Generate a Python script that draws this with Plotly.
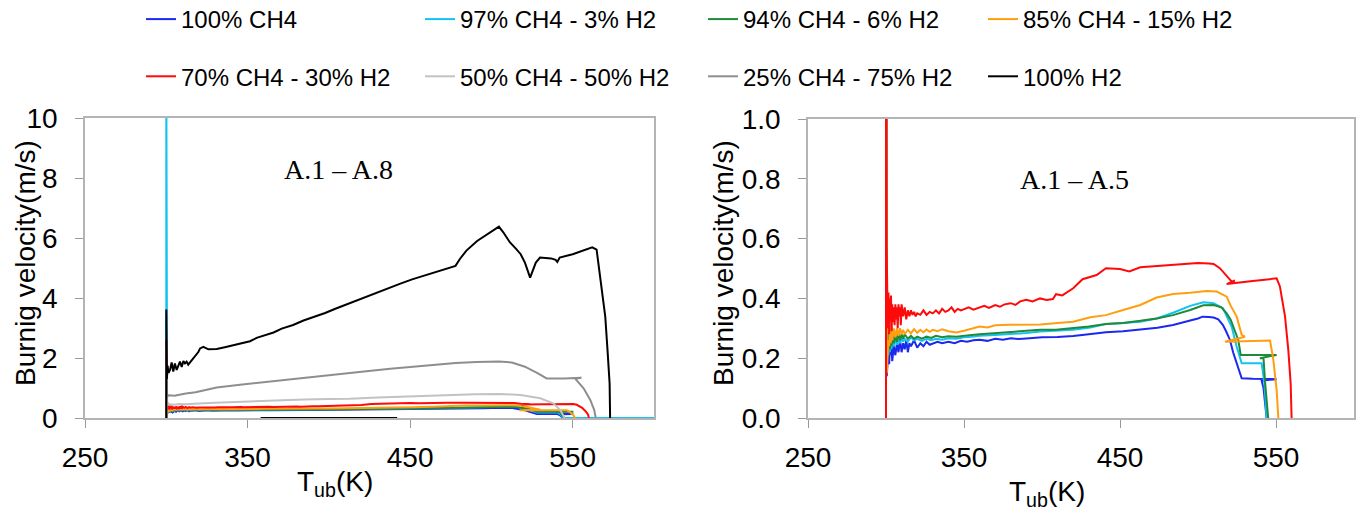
import plotly.graph_objects as go

# ---------------- data (T_ub [K], burning velocity [m/s]) ----------------
names = ["100% CH4", "97% CH4 - 3% H2", "94% CH4 - 6% H2", "85% CH4 - 15% H2",
         "70% CH4 - 30% H2", "50% CH4 - 50% H2", "25% CH4 - 75% H2", "100% H2"]
colors = ["#1c28f0", "#12c3f2", "#1f8a3a", "#ff9f10",
          "#ff0a0a", "#c2c2c2", "#8e8e8e", "#000000"]

ch4_100 = [(300, 0), (300, 1.5), (300.5, 0.14), (301, 0.20), (301.5, 0.23), (302, 0.18), (302.5, 0.24),
           (303, 0.21), (303.5, 0.25), (304, 0.19), (305, 0.24), (306, 0.21), (307, 0.25), (308, 0.22),
           (309, 0.26), (310, 0.22), (311, 0.25), (312, 0.23), (313, 0.26), (314, 0.22), (315, 0.25),
           (316, 0.24), (318, 0.26), (320, 0.235), (322, 0.25), (324, 0.24), (326, 0.255), (328, 0.245),
           (330, 0.25), (333, 0.255), (336, 0.25), (340, 0.255), (344, 0.25), (348, 0.258), (352, 0.255),
           (356, 0.26), (360, 0.262), (365, 0.258), (370, 0.265), (375, 0.262), (380, 0.267), (385, 0.264),
           (390, 0.266), (395, 0.268), (400, 0.27), (410, 0.271), (420, 0.274), (430, 0.28), (441, 0.287),
           (452, 0.29), (463, 0.296), (474, 0.302), (484, 0.311), (490, 0.318), (495, 0.326), (500, 0.333),
           (503, 0.339), (507, 0.338), (510, 0.336), (513, 0.33), (516, 0.311), (518, 0.29), (520.5, 0.261),
           (522.5, 0.22), (524.8, 0.183), (526.5, 0.15), (528, 0.133), (535, 0.131), (550.4, 0.13),
           (540.8, 0.125), (542, 0.10), (543, 0.05), (543.6, 0.02), (544, 0)]

ch4_97 = [(300, 0), (300, 12), (300.5, 0.18), (301, 0.24), (301.5, 0.21), (302, 0.26), (302.5, 0.22),
          (303, 0.27), (303.5, 0.23), (304, 0.26), (305, 0.24), (306, 0.27), (307, 0.245), (308, 0.265),
          (309, 0.25), (310, 0.27), (311, 0.255), (312, 0.265), (314, 0.255), (316, 0.27), (318, 0.26),
          (320, 0.265), (323, 0.258), (326, 0.265), (329, 0.26), (332, 0.265), (336, 0.262), (340, 0.267),
          (345, 0.265), (350, 0.27), (355, 0.272), (360, 0.275), (370, 0.278), (380, 0.28), (390, 0.284),
          (399, 0.289), (410, 0.292), (420, 0.295), (431, 0.303), (441, 0.314), (452, 0.318), (463, 0.322),
          (473.5, 0.333), (484, 0.352), (495, 0.375), (503.4, 0.387), (510, 0.384), (516, 0.367),
          (521.6, 0.305), (524.8, 0.238), (528, 0.183), (540.8, 0.183), (542.5, 0.12), (543.5, 0.05),
          (544, 0)]
# zero-velocity tail visible only along the left panel's bottom axis
ch4_97_tail = [(544, 0), (600, 0)]

ch4_94 = [(300, 0), (300, 1.8), (300.5, 0.16), (301, 0.25), (301.5, 0.22), (302, 0.29), (302.5, 0.23),
          (303, 0.28), (303.5, 0.24), (304, 0.29), (305, 0.25), (306, 0.28), (307, 0.255), (308, 0.285),
          (309, 0.26), (310, 0.28), (311, 0.265), (312, 0.28), (314, 0.265), (316, 0.275), (318, 0.265),
          (320, 0.272), (323, 0.265), (326, 0.272), (329, 0.268), (332, 0.275), (336, 0.27), (340, 0.273),
          (345, 0.272), (350, 0.276), (355, 0.278), (360, 0.28), (370, 0.284), (380, 0.287), (390, 0.29),
          (399, 0.295), (409, 0.295), (420, 0.3), (430, 0.306), (441, 0.314), (452, 0.318), (463, 0.325),
          (473.5, 0.333), (484, 0.344), (495, 0.361), (503.4, 0.377), (510, 0.378), (515, 0.37),
          (518.4, 0.35), (521, 0.328), (522.6, 0.305), (525.8, 0.261), (527.4, 0.211), (550.4, 0.211),
          (539.7, 0.2), (542, 0.2), (543, 0.12), (544.5, 0.04), (545, 0)]

ch4_85 = [(300, 0), (300, 2.2), (300.5, 0.15), (301, 0.2), (301.5, 0.26), (302, 0.24), (302.5, 0.3),
          (303, 0.25), (303.5, 0.31), (304, 0.26), (305, 0.3), (306, 0.27), (307, 0.3), (308, 0.275),
          (309, 0.3), (310, 0.28), (311, 0.295), (312, 0.28), (314, 0.295), (316, 0.283), (318, 0.297),
          (320, 0.285), (322, 0.295), (324, 0.287), (326, 0.296), (328, 0.288), (330, 0.295), (333, 0.29),
          (336, 0.297), (340, 0.29), (345, 0.286), (350, 0.292), (355, 0.3), (360, 0.306), (365, 0.303),
          (370, 0.31), (380, 0.312), (390, 0.313), (399, 0.313), (410, 0.318), (420, 0.322), (431, 0.337),
          (441, 0.344), (452, 0.361), (463, 0.378), (473.5, 0.403), (484, 0.415), (495, 0.419),
          (505.5, 0.425), (512, 0.423), (518.4, 0.406), (521, 0.375), (524.8, 0.339), (528, 0.278),
          (530.1, 0.272), (517.3, 0.255), (546.2, 0.259), (548.3, 0.194), (550.4, 0.094), (551.5, 0)]

ch4_70 = [(300, 0), (300, 2.6), (300.4, 0.58), (300.8, 0.43), (301.2, 0.30), (301.6, 0.42), (302, 0.28),
          (302.4, 0.40), (302.8, 0.33), (303.2, 0.41), (303.6, 0.29), (304, 0.38), (304.5, 0.32),
          (305, 0.37), (305.5, 0.31), (306, 0.38), (306.5, 0.33), (307, 0.37), (307.5, 0.30), (308, 0.38),
          (308.5, 0.34), (309, 0.37), (309.5, 0.31), (310, 0.38), (311, 0.34), (312, 0.37), (313, 0.33),
          (314, 0.36), (315, 0.34), (316, 0.36), (317, 0.345), (318, 0.355), (319, 0.34), (320, 0.35),
          (322, 0.345), (324, 0.36), (326, 0.345), (328, 0.355), (330, 0.35), (332, 0.36), (334, 0.35),
          (336, 0.365), (338, 0.355), (340, 0.36), (342, 0.37), (344, 0.355), (346, 0.365), (348, 0.36),
          (350, 0.365), (353, 0.37), (356, 0.362), (360, 0.37), (363, 0.375), (366, 0.368), (370, 0.378),
          (373, 0.372), (376, 0.38), (380, 0.384), (383, 0.378), (386, 0.39), (390, 0.395), (394, 0.39),
          (398.7, 0.40), (403, 0.395), (407, 0.398), (409, 0.414), (413, 0.41), (420, 0.434), (426, 0.464),
          (435, 0.478), (441, 0.501), (450, 0.498), (456, 0.49), (463, 0.504), (473, 0.508), (484, 0.512),
          (495, 0.517), (500, 0.518), (507, 0.517), (510, 0.515), (514, 0.501), (518, 0.478),
          (521.6, 0.456), (523.7, 0.46), (518.4, 0.448), (535, 0.458), (550.4, 0.467), (552.5, 0.44),
          (555.8, 0.339), (557.9, 0.227), (559.4, 0.116), (560, 0)]

ch4_50 = [(300, 0), (300, 1.8), (300.5, 0.42), (302, 0.46), (305, 0.44), (308, 0.47), (312, 0.46),
          (316, 0.48), (320, 0.48), (330, 0.51), (340, 0.53), (350, 0.55), (360, 0.57), (372, 0.6),
          (385, 0.62), (400, 0.63), (413, 0.64), (430, 0.68), (450, 0.72), (470, 0.76), (490, 0.79),
          (505, 0.8), (518, 0.77), (530, 0.66), (538, 0.49), (542.3, 0.27), (544.4, 0.04), (545, 0)]

ch4_25 = [(300, 0), (300, 2.4), (300.5, 0.72), (301.6, 0.76), (305, 0.74), (308, 0.78), (312, 0.82),
          (318, 0.86), (323, 0.93), (331, 1.02), (344, 1.1), (357.7, 1.18), (371, 1.28), (384.4, 1.35),
          (397.7, 1.42), (411, 1.49), (424.5, 1.57), (437.8, 1.64), (451.2, 1.71), (464.5, 1.77),
          (478, 1.83), (491, 1.87), (504.6, 1.88), (512.6, 1.85), (520.6, 1.71), (528.6, 1.49),
          (534, 1.32), (544.7, 1.32), (555.4, 1.34), (551.5, 1.31), (556.7, 0.99), (560.8, 0.6),
          (563.2, 0.27), (564.2, 0)]

h2_100 = [(300, 0), (300, 3.62), (300.4, 1.3), (300.8, 1.75), (301.3, 1.5), (302.3, 1.6), (303.3, 1.85),
          (304.3, 1.55), (305.3, 1.82), (306.4, 1.6), (307.4, 1.75), (308.4, 1.88), (309.5, 1.7),
          (310.5, 1.9), (311.5, 1.82), (312.5, 1.88), (313.5, 1.78), (315.6, 1.93), (317.5, 2.05),
          (319.7, 2.2), (320.8, 2.32), (322.8, 2.37), (325.9, 2.29), (331, 2.3), (336, 2.36), (341.3, 2.43),
          (346, 2.48), (351.5, 2.56), (356, 2.68), (361.8, 2.77), (366, 2.85), (371, 2.98), (378, 3.1),
          (384.4, 3.25), (391, 3.37), (397.7, 3.5), (404, 3.64), (411, 3.79), (418, 3.93), (424.5, 4.06),
          (431, 4.2), (437.8, 4.34), (444, 4.48), (451.2, 4.62), (458, 4.74), (464.5, 4.85), (471, 4.95),
          (477.9, 5.07), (480.6, 5.3), (484.6, 5.58), (491.2, 5.9), (499.3, 6.19), (504.6, 6.38),
          (507.3, 6.19), (511.3, 5.86), (515.3, 5.63), (518, 5.46), (520.6, 5.18), (523.8, 4.68),
          (527.3, 5.18), (529.9, 5.35), (536.7, 5.32), (539.5, 5.27), (540.5, 5.2), (542, 5.35),
          (550, 5.46), (558, 5.63), (562, 5.69), (564.7, 5.61), (567.4, 4.51), (570, 3.39), (571.4, 2.27),
          (572.7, 1.15), (573, 0), (None, None), (358, 0), (442, 0)]

series = [ch4_100, ch4_97, ch4_94, ch4_85, ch4_70, ch4_50, ch4_25, h2_100]
left_tails = {1: ch4_97_tail}
right_panel_count = 5          # A.1 - A.5 shown in the right panel
legend_of = ["legend", "legend2", "legend3", "legend4", "legend", "legend2", "legend3", "legend4"]

x_ticks = [250, 350, 450, 550]
y_ticks_left = [0, 2, 4, 6, 8, 10]
y_ticks_right = [0.0, 0.2, 0.4, 0.6, 0.8, 1.0]

# ---------------- figure ----------------
W, H = 1360, 514
FONT = "Liberation Sans, Arial, sans-serif"
fig = go.Figure()


def split(pts):
    return [p[0] for p in pts], [p[1] for p in pts]


for i, pts in enumerate(series):
    full = pts + ([(None, None)] + left_tails[i] if i in left_tails else [])
    xs, ys = split(full)
    fig.add_trace(go.Scatter(x=xs, y=ys, mode="lines", name=names[i],
                             line=dict(color=colors[i], width=2),
                             legend=legend_of[i], legendgroup=names[i],
                             xaxis="x", yaxis="y", showlegend=True))
for i in range(right_panel_count):
    xs, ys = split(series[i])
    fig.add_trace(go.Scatter(x=xs, y=ys, mode="lines", name=names[i],
                             line=dict(color=colors[i], width=2),
                             legendgroup=names[i], legend=legend_of[i],
                             xaxis="x2", yaxis="y2", showlegend=False))

axis_common = dict(showline=True, linecolor="#b4b4b4", linewidth=1.5, mirror=True,
                   showgrid=False, zeroline=False, ticks="outside", ticklen=8,
                   tickcolor="#9a9a9a", tickwidth=1,
                   tickfont=dict(family=FONT, size=28, color="#000"))

yb, yt = 96 / H, 396 / H
fig.update_layout(
    width=W, height=H, autosize=False,
    margin=dict(l=0, r=0, t=0, b=0, autoexpand=False),
    paper_bgcolor="white", plot_bgcolor="white",
    font=dict(family=FONT, color="#000"),
    xaxis=dict(domain=[85 / W, 654 / W], range=[250, 600], tickvals=x_ticks,
               ticklabelstandoff=6, anchor="y", **axis_common),
    yaxis=dict(domain=[yb, yt], range=[0, 10], tickvals=y_ticks_left,
               ticklabelstandoff=12, anchor="x", **axis_common),
    xaxis2=dict(domain=[808 / W, 1354 / W], range=[250, 600], tickvals=x_ticks,
                ticklabelstandoff=6, anchor="y2", **axis_common),
    yaxis2=dict(domain=[yb, 395 / H], range=[0, 1], tickvals=y_ticks_right,
                tickformat=".1f", ticklabelstandoff=12, anchor="x2", **axis_common),
)

legend_cols = [141, 420, 703, 983]
for j, key in enumerate(["legend", "legend2", "legend3", "legend4"]):
    fig.update_layout({key: dict(x=legend_cols[j] / W, y=1 + 3 / H, xref="paper", yref="paper",
                                 xanchor="left", yanchor="top", orientation="v",
                                 traceorder="grouped", tracegroupgap=23,
                                 bgcolor="rgba(0,0,0,0)", borderwidth=0,
                                 font=dict(family=FONT, size=24, color="#000"),
                                 itemwidth=30)})

ann = []
for xc, yc in [(335, 483), (1047, 493)]:
    ann.append(dict(x=xc / W, y=1 - yc / H, xref="paper", yref="paper", showarrow=False,
                    text="T<sub>ub</sub>(K)", font=dict(family=FONT, size=28, color="#000"),
                    xanchor="center", yanchor="middle"))
for xc in [25, 723]:
    ann.append(dict(x=xc / W, y=1 - 263 / H, xref="paper", yref="paper", showarrow=False,
                    text="Burnig velocity(m/s)", textangle=-90,
                    font=dict(family=FONT, size=28, color="#000"),
                    xanchor="center", yanchor="middle"))
ann.append(dict(x=338 / W, y=1 - 170 / H, xref="paper", yref="paper", showarrow=False,
                text="A.1 – A.8", font=dict(family="Liberation Serif, serif", size=28, color="#000"),
                xanchor="center", yanchor="middle"))
ann.append(dict(x=1074 / W, y=1 - 179 / H, xref="paper", yref="paper", showarrow=False,
                text="A.1 – A.5", font=dict(family="Liberation Serif, serif", size=28, color="#000"),
                xanchor="center", yanchor="middle"))
fig.update_layout(annotations=ann)

fig.write_html("out.html")
